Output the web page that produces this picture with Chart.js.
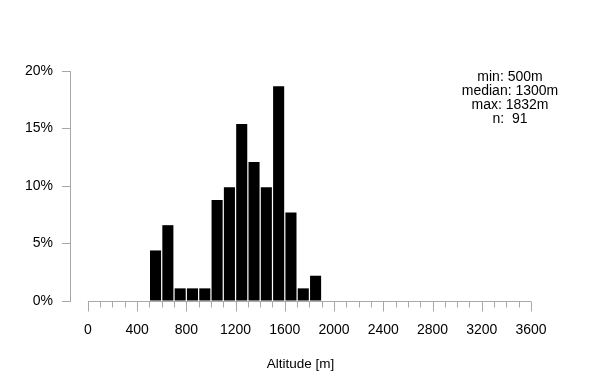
<!DOCTYPE html>
<html>
<head>
<meta charset="utf-8">
<script src="https://cdn.jsdelivr.net/npm/chart.js@4"></script>
<style>
html, body { margin: 0; padding: 0; background: #fff; }
</style>
</head>
<body>
<canvas id="histChart" width="600" height="390"></canvas>
<script>
// Histogram bins (100 m wide) and counts per bin
var binStarts = [500, 600, 700, 800, 900, 1000, 1100, 1200, 1300, 1400, 1500, 1600, 1700, 1800];
var binWidth = 100;
var counts = [4, 6, 1, 1, 1, 8, 9, 14, 11, 9, 17, 7, 1, 2];
var xTicks = [0, 400, 800, 1200, 1600, 2000, 2400, 2800, 3200, 3600];
var yTicks = [0, 5, 10, 15, 20];
var statLines = ["min: 500m", "median: 1300m", "max: 1832m", "n:  91"];

var total = counts.reduce(function(a, b) { return a + b; }, 0);
var barData = binStarts.map(function(start, i) {
    return { x: start + binWidth / 2, y: counts[i] / total * 100 };
});

var axisGray = '#a8a8a8';
var fontFamily = '"Liberation Sans", Arial, sans-serif';

// draws the x axis line with minor/major ticks from 0 to the last tick
var xAxisPlugin = {
    id: 'xAxisLine',
    afterDraw: function(chart) {
        var ctx = chart.ctx;
        var xs = chart.scales.x;
        var y0 = Math.round(chart.scales.y.getPixelForValue(0)) + 0.5;
        var first = xTicks[0];
        var last = xTicks[xTicks.length - 1];
        ctx.save();
        ctx.strokeStyle = axisGray;
        ctx.lineWidth = 1;
        ctx.beginPath();
        ctx.moveTo(xs.getPixelForValue(first), y0);
        ctx.lineTo(xs.getPixelForValue(last), y0);
        for (var v = first; v <= last; v += binWidth) {
            var px = Math.round(xs.getPixelForValue(v)) + 0.5;
            var len = xTicks.indexOf(v) >= 0 ? 10 : 6;
            ctx.moveTo(px, y0);
            ctx.lineTo(px, y0 + len);
        }
        ctx.stroke();
        ctx.restore();
    }
};

// summary text in the top right corner
var statsPlugin = {
    id: 'stats',
    afterDraw: function(chart) {
        var ctx = chart.ctx;
        ctx.save();
        ctx.fillStyle = '#000';
        ctx.font = '14px ' + fontFamily;
        ctx.textAlign = 'center';
        ctx.textBaseline = 'middle';
        statLines.forEach(function(line, i) {
            ctx.fillText(line, 510, 77 + i * 14);
        });
        ctx.restore();
    }
};

var ctx = document.getElementById('histChart').getContext('2d');

var histChart = new Chart(ctx, {
    type: 'bar',
    data: {
        datasets: [{
            data: barData,
            backgroundColor: '#000',
            borderWidth: 0,
            categoryPercentage: 1.0,
            barPercentage: 0.9
        }]
    },
    options: {
        responsive: false,
        animation: false,
        layout: {
            padding: { left: 0, right: 69, top: 71, bottom: 0 }
        },
        plugins: {
            legend: { display: false },
            tooltip: { enabled: false }
        },
        scales: {
            x: {
                type: 'linear',
                min: -145,
                max: 3600,
                offset: false,
                afterBuildTicks: function(scale) {
                    scale.ticks = xTicks.map(function(v) { return { value: v }; });
                },
                afterFit: function(scale) { scale.height = 89; },
                ticks: {
                    autoSkip: false,
                    maxRotation: 0,
                    padding: 13,
                    color: '#000',
                    font: { family: fontFamily, size: 14 },
                    callback: function(v) { return String(v); }
                },
                grid: { display: false },
                border: { display: false },
                title: {
                    display: true,
                    text: 'Altitude [m]',
                    color: '#000',
                    font: { family: fontFamily, size: 13.5 },
                    padding: { top: 0, bottom: 18 }
                }
            },
            y: {
                min: 0,
                max: 20,
                afterBuildTicks: function(scale) {
                    scale.ticks = yTicks.map(function(v) { return { value: v }; });
                },
                afterFit: function(scale) { scale.width = 70; },
                ticks: {
                    padding: 9,
                    color: '#000',
                    font: { family: fontFamily, size: 14 },
                    callback: function(v) { return v + '%'; }
                },
                grid: {
                    drawOnChartArea: false,
                    tickLength: 8,
                    color: axisGray
                },
                border: { color: axisGray }
            }
        }
    },
    plugins: [xAxisPlugin, statsPlugin]
});
</script>
</body>
</html>
